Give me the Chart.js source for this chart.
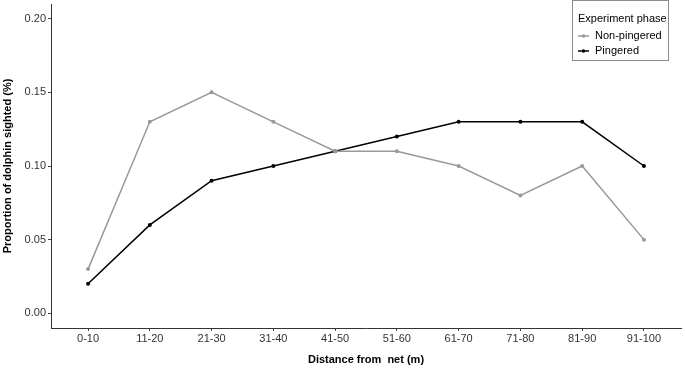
<!DOCTYPE html>
<html lang="en">
<head>
  <meta charset="UTF-8">
  <title>Proportion of dolphin sighted</title>
  <script src="https://cdn.jsdelivr.net/npm/chart.js"></script>
  <style>
    body { margin: 0; background: #ffffff; }
    #wrap { width: 685px; height: 369px; }
  </style>
</head>
<body>
  <div id="wrap"><canvas id="chart" width="685" height="369"></canvas></div>
  <script>
    const distances = ['0-10', '11-20', '21-30', '31-40', '41-50', '51-60', '61-70', '71-80', '81-90', '91-100'];
    const nonPingered = [0.03, 0.13, 0.15, 0.13, 0.11, 0.11, 0.10, 0.08, 0.10, 0.05];
    const pingered = [0.02, 0.06, 0.09, 0.10, 0.11, 0.12, 0.13, 0.13, 0.13, 0.10];
    const yTicks = [0, 0.05, 0.10, 0.15, 0.20];

    const toPoints = vals => vals.map((v, i) => ({ x: i + 1, y: v }));
    const font = 'Liberation Sans, Arial, sans-serif';

    // legend drawn like the ggplot box in the top right corner
    const boxLegend = {
      id: 'boxLegend',
      afterDraw(chart) {
        const c = chart.ctx;
        c.save();
        c.strokeStyle = '#8c8c8c';
        c.lineWidth = 1;
        c.strokeRect(572.5, 0.5, 96, 60);
        c.fillStyle = '#000';
        c.font = '11px ' + font;
        c.textBaseline = 'middle';
        c.fillText('Experiment phase', 578, 19);
        chart.data.datasets.forEach((ds, i) => {
          const y = 36 + i * 15;
          c.strokeStyle = ds.borderColor;
          c.lineWidth = 1.5;
          c.beginPath();
          c.moveTo(578, y);
          c.lineTo(589, y);
          c.stroke();
          c.fillStyle = ds.borderColor;
          c.beginPath();
          c.arc(583.5, y, 1.8, 0, Math.PI * 2);
          c.fill();
          c.fillStyle = '#000';
          c.fillText(ds.label, 595, y);
        });
        c.restore();
      }
    };

    new Chart(document.getElementById('chart'), {
      type: 'line',
      data: {
        datasets: [
          {
            label: 'Non-pingered',
            data: toPoints(nonPingered),
            borderColor: '#999999',
            backgroundColor: '#999999',
            borderWidth: 1.5,
            pointRadius: 2,
            pointBorderWidth: 0,
            tension: 0
          },
          {
            label: 'Pingered',
            data: toPoints(pingered),
            borderColor: '#000000',
            backgroundColor: '#000000',
            borderWidth: 1.5,
            pointRadius: 2,
            pointBorderWidth: 0,
            tension: 0
          }
        ]
      },
      options: {
        responsive: false,
        animation: false,
        layout: { padding: { top: 2, right: 1, left: 0, bottom: 0 } },
        plugins: { legend: { display: false }, tooltip: { enabled: false } },
        scales: {
          x: {
            type: 'linear',
            min: 0.4,
            max: 10.6,
            afterBuildTicks: s => { s.ticks = distances.map((d, i) => ({ value: i + 1 })); },
            afterFit: s => { s.height = 41; s.paddingLeft = 0; s.paddingRight = 0; },
            ticks: {
              callback: v => distances[v - 1],
              color: '#333',
              font: { family: font, size: 11 },
              padding: 1,
              maxRotation: 0,
              autoSkip: false
            },
            grid: { drawOnChartArea: false, drawTicks: true, tickLength: 3, color: '#444' },
            border: { display: true, color: '#333', width: 1 },
            title: {
              display: true,
              text: 'Distance from  net (m)',
              color: '#000',
              font: { family: font, size: 11, weight: 'bold' },
              padding: { top: 3, bottom: 2.5 }
            }
          },
          y: {
            min: -0.01,
            max: 0.21,
            afterBuildTicks: s => { s.ticks = yTicks.map(v => ({ value: v })); },
            afterFit: s => { s.width = 51; s.paddingTop = 0; s.paddingBottom = 0; },
            ticks: {
              callback: v => v.toFixed(2),
              color: '#333',
              font: { family: font, size: 11 },
              padding: 2
            },
            grid: { drawOnChartArea: false, drawTicks: true, tickLength: 3, color: '#444' },
            border: { display: true, color: '#333', width: 1 },
            title: {
              display: true,
              text: 'Proportion of dolphin sighted (%)',
              color: '#000',
              font: { family: font, size: 11, weight: 'bold' },
              padding: { top: 1.5, bottom: 2 }
            }
          }
        }
      },
      plugins: [boxLegend]
    });
  </script>
</body>
</html>
